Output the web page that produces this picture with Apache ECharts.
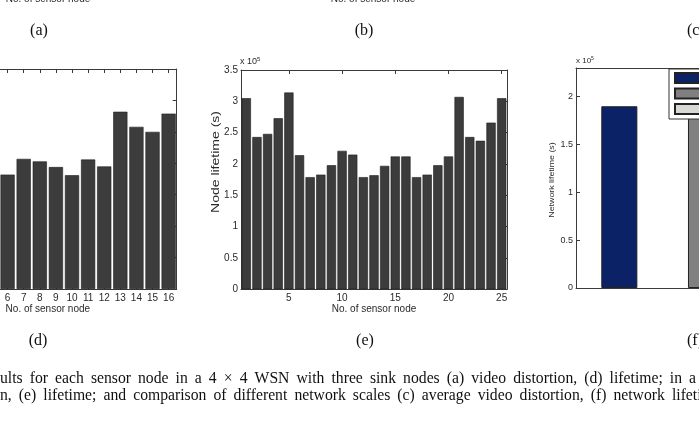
<!DOCTYPE html>
<html>
<head>
<meta charset="utf-8">
<script src="https://cdn.jsdelivr.net/npm/echarts@6/dist/echarts.min.js"></script>
<style>
html,body{margin:0;padding:0;background:#fff;overflow:hidden;}
#chart{width:699px;height:444px;}
</style>
</head>
<body>
<div id="chart"></div>
<script>
// ---- data (lifetime values in units of 10^5 s) ----
const dNodes = ['1','2','3','4','5','6','7','8','9','10','11','12','13','14','15','16'];
// nodes 1-5 of panel (d) lie outside the cropped picture
const dLifetime = [null, null, null, null, null, 1.82, 2.07, 2.03, 1.94, 1.81, 2.06, 1.95, 2.82, 2.58, 2.50, 2.79];
const eNodes = ['1','2','3','4','5','6','7','8','9','10','11','12','13','14','15','16','17','18','19','20','21','22','23','24','25'];
const eLifetime = [3.05, 2.43, 2.48, 2.73, 3.14, 2.14, 1.79, 1.83, 1.98, 2.21, 2.15, 1.79, 1.82, 1.97, 2.12, 2.12, 1.79, 1.83, 1.98, 2.12, 3.07, 2.43, 2.37, 2.66, 3.05];
const fScales = ['3 × 3', '4 × 4', '5 × 5'];
const fLifetime = [1.90, 1.81, 1.79];
const fColors = ['#0b2266', '#808080', '#d8d8d4'];
const lifeTicks = [0, 0.5, 1, 1.5, 2, 2.5, 3, 3.5];
const captionLines = [
  'ults for each sensor node in a 4 × 4 WSN with three sink nodes (a) video distortion, (d) lifetime; in a 5 × 5 WSN',
  'n, (e) lifetime; and comparison of different network scales (c) average video distortion, (f) network lifetime.'
];

const chart = echarts.init(document.getElementById('chart'), null, {renderer: 'canvas'});
const axisCol = '#3a3a3a';
const txtCol = '#2a2a2a';
const sans = 'Liberation Sans, Arial, sans-serif';
const serif = 'Liberation Serif, Times New Roman, serif';
const barCol = '#3c3c3c';

function catAxis(grid, data, pos, showLabel, every, name, nameGap) {
  const f = (i) => (i + 1) % every === 0;
  return {
    type: 'category', gridIndex: grid, data: data, position: pos,
    boundaryGap: true,
    axisLine: {show: true, onZero: false, lineStyle: {color: axisCol, width: 1}},
    axisTick: {show: true, inside: true, length: 4, alignWithLabel: true, interval: f, lineStyle: {color: axisCol}},
    axisLabel: {show: showLabel, interval: f, margin: 4, color: txtCol, fontFamily: sans, fontSize: 10},
    splitLine: {show: false},
    name: name || '', nameLocation: 'middle', nameGap: nameGap || 15,
    nameTextStyle: {color: txtCol, fontFamily: sans, fontSize: 10}
  };
}
function valAxis(grid, max, pos, showLabel, fs) {
  return {
    type: 'value', gridIndex: grid, min: 0, max: max, interval: 0.5, position: pos,
    axisLine: {show: true, lineStyle: {color: axisCol, width: 1}},
    axisTick: {show: true, inside: true, length: 4, lineStyle: {color: axisCol}},
    axisLabel: {show: showLabel, margin: 3, color: txtCol, fontFamily: sans, fontSize: fs || 10,
      showMaxLabel: true,
      formatter: (v) => lifeTicks.indexOf(Math.round(v * 100) / 100) >= 0 ? String(Math.round(v * 100) / 100) : ''},
    splitLine: {show: false}
  };
}
const justify = (s) => s.split(' ').join(' \u2009');

const option = {
  backgroundColor: '#ffffff',
  animation: false,
  grid: [
    {left: -81, top: 69, width: 257.7, height: 220, outerBoundsMode: 'none', containLabel: false},
    {left: 241, top: 70, width: 266, height: 219.3, outerBoundsMode: 'none', containLabel: false},
    {left: 576, top: 68, width: 260, height: 220, outerBoundsMode: 'none', containLabel: false}
  ],
  xAxis: [
    catAxis(0, dNodes, 'bottom', true, 1, 'No. of sensor node', 13),
    catAxis(0, dNodes, 'top', false, 1),
    catAxis(1, eNodes, 'bottom', true, 5, 'No. of sensor node', 15),
    catAxis(1, eNodes, 'top', false, 5),
    {type: 'category', gridIndex: 2, data: fScales, position: 'bottom',
     axisLine: {show: true, onZero: false, lineStyle: {color: axisCol}},
     axisTick: {show: false}, axisLabel: {show: false}, splitLine: {show: false}},
    {type: 'category', gridIndex: 2, data: fScales, position: 'top',
     axisLine: {show: true, onZero: false, lineStyle: {color: axisCol}},
     axisTick: {show: false}, axisLabel: {show: false}, splitLine: {show: false}}
  ],
  yAxis: [
    valAxis(0, 3.5, 'left', true),
    valAxis(0, 3.5, 'right', false),
    valAxis(1, 3.5, 'left', true),
    valAxis(1, 3.5, 'right', false),
    valAxis(2, 2.3, 'left', true, 9),
    valAxis(2, 2.3, 'right', false)
  ],
  legend: {
    orient: 'vertical', left: 669, top: 69,
    padding: [3, 5, 4, 5], itemGap: 3.5, itemWidth: 60, itemHeight: 10,
    backgroundColor: '#ffffff', borderColor: '#333', borderWidth: 1, borderRadius: 0,
    icon: 'rect',
    textStyle: {color: txtCol, fontFamily: sans, fontSize: 9},
    data: fScales
  },
  series: [
    {type: 'bar', name: 'd', xAxisIndex: 0, yAxisIndex: 0, data: dLifetime, barWidth: '88%',
     itemStyle: {color: barCol, borderColor: '#1e1e1e', borderWidth: 0.6}},
    {type: 'bar', name: 'e', xAxisIndex: 2, yAxisIndex: 2, data: eLifetime, barWidth: '87%',
     itemStyle: {color: barCol, borderColor: '#1e1e1e', borderWidth: 0.6}}
  ].concat(fScales.map((s, i) => ({
    type: 'bar', name: s, xAxisIndex: 4, yAxisIndex: 4, barWidth: '41.6%', barGap: '-100%',
    data: fLifetime.map((v, j) => j === i ? v : null),
    itemStyle: {color: fColors[i], borderColor: '#222', borderWidth: 1}
  }))),
  graphic: [
    // clipped axis titles of the panels above
    {type: 'text', x: 48, y: -1, style: {text: 'No. of sensor node', fill: txtCol, font: '10px ' + sans, textAlign: 'center', textVerticalAlign: 'middle'}},
    {type: 'text', x: 373, y: -1, style: {text: 'No. of sensor node', fill: txtCol, font: '10px ' + sans, textAlign: 'center', textVerticalAlign: 'middle'}},
    {type: 'text', x: 39, y: 31, style: {text: '(a)', fill: '#111', font: '16px ' + serif, textAlign: 'center', textVerticalAlign: 'middle'}},
    {type: 'text', x: 364, y: 31, style: {text: '(b)', fill: '#111', font: '16px ' + serif, textAlign: 'center', textVerticalAlign: 'middle'}},
    {type: 'text', x: 687, y: 31, style: {text: '(c)', fill: '#111', font: '16px ' + serif, textAlign: 'left', textVerticalAlign: 'middle'}},
    {type: 'text', x: 38, y: 341, style: {text: '(d)', fill: '#111', font: '16px ' + serif, textAlign: 'center', textVerticalAlign: 'middle'}},
    {type: 'text', x: 365, y: 341, style: {text: '(e)', fill: '#111', font: '16px ' + serif, textAlign: 'center', textVerticalAlign: 'middle'}},
    {type: 'text', x: 687, y: 341, style: {text: '(f)', fill: '#111', font: '16px ' + serif, textAlign: 'left', textVerticalAlign: 'middle'}},
    // exponent labels
    {type: 'text', x: 240, y: 62, style: {rich: {a: {fontSize: 9, fontFamily: sans, fill: txtCol}, s: {fontSize: 6, fontFamily: sans, fill: txtCol, padding: [0, 0, 6, 0]}}, text: '{a|x 10}{s|5}', textVerticalAlign: 'middle'}},
    {type: 'text', x: 576, y: 61, style: {rich: {a: {fontSize: 8, fontFamily: sans, fill: txtCol}, s: {fontSize: 5, fontFamily: sans, fill: txtCol, padding: [0, 0, 5, 0]}}, text: '{a|x 10}{s|5}', textVerticalAlign: 'middle'}},
    // y-axis titles
    {type: 'text', x: 216, y: 162, rotation: Math.PI / 2, scaleX: 1.4, style: {text: 'Node lifetime (s)', fill: txtCol, font: '10px ' + sans, textAlign: 'center', textVerticalAlign: 'middle'}},
    {type: 'text', x: 552, y: 180, rotation: Math.PI / 2, scaleX: 1.1, style: {text: 'Network lifetime (s)', fill: txtCol, font: '8px ' + sans, textAlign: 'center', textVerticalAlign: 'middle'}},
    // caption
    {type: 'text', x: 0, y: 379, style: {text: justify(captionLines[0]), fill: '#111', font: '15.7px ' + serif, textAlign: 'left', textVerticalAlign: 'middle'}},
    {type: 'text', x: 0, y: 396, style: {text: justify(captionLines[1]), fill: '#111', font: '15.7px ' + serif, textAlign: 'left', textVerticalAlign: 'middle'}}
  ]
};
chart.setOption(option);
</script>
</body>
</html>
